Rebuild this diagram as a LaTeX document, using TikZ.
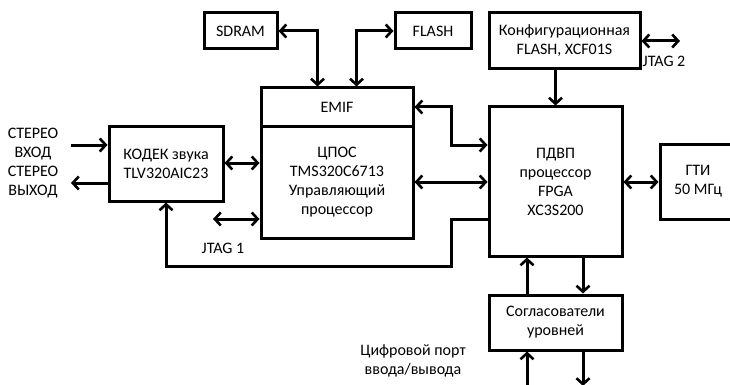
\documentclass[tikz,border=0pt]{standalone}
\usepackage{fontspec}
\setmainfont{Carlito}
\usetikzlibrary{arrows.meta,calc}
\begin{document}
\begin{tikzpicture}[x=1pt,y=-1pt,
  every node/.style={font=\fontsize{16}{19}\selectfont, align=center, inner sep=0pt},
  box/.style={draw, line width=3pt, rectangle},
  conn/.style={line width=3pt, arrows={-}},
  both/.style={conn, {Straight Barb[length=6pt,width=13pt,line width=2.6pt]}-{Straight Barb[length=6pt,width=13pt,line width=2.6pt]}},
  fwd/.style={conn, -{Straight Barb[length=6pt,width=13pt,line width=2.6pt]}}
]
\useasboundingbox (0,0) rectangle (730,385);
\begin{scope}
\clip (0,0) rectangle (730,385);
% boxes
\node[box, minimum width=73pt, minimum height=36pt] (sdram) at (240.5,31) {SDRAM};
\node[box, minimum width=76pt, minimum height=36pt] (flash) at (433,31) {FLASH};
\node[box, minimum width=151pt, minimum height=56pt] (cfg) at (564.5,41) {Конфигурационная\\FLASH, XCF01S};
\node[box, minimum width=152pt, minimum height=38pt] (emif) at (337,107) {EMIF};
\node[box, minimum width=152pt, minimum height=112pt] (dsp) at (337,182) {ЦПОС\\TMS320C6713\\Управляющий\\процессор};
\node[box, minimum width=114pt, minimum height=75pt] (codec) at (166,163.5) {КОДЕК звука\\TLV320AIC23};
\node[box, minimum width=133pt, minimum height=149pt] (fpga) at (555.5,181.5) {ПДВП\\процессор\\FPGA\\XC3S200};
\node[box, minimum width=76pt, minimum height=75pt] (gti) at (698,181.5) {ГТИ\\50 МГц};
\node[box, minimum width=133pt, minimum height=55pt] (lvl) at (555.5,322.5) {Согласователи\\уровней};

% labels
\node (lin) at (33,144.5) {СТЕРЕО\\ВХОД};
\node (lout) at (33,182.5) {СТЕРЕО\\ВЫХОД};
\node (lj1) at (223,248) {JTAG 1};
\node (lj2) at (664,61) {JTAG 2};
\node (lport) at (413,361) {Цифровой порт\\ввода/вывода};

% free ends
\coordinate (inS) at (71,145);
\coordinate (outE) at (71,183);
\coordinate (j1) at (213,219);
\coordinate (j2) at (680,41);
\coordinate (pin) at (527,390);
\coordinate (pout) at (583,386);

% connectors
\draw[both] (sdram.east) -| ($(emif.north west)+(58,0)$);
\draw[both] (flash.west) -| ($(emif.north west)+(97,0)$);
\draw[fwd] (inS) -- (inS -| codec.west);
\draw[fwd] (outE -| codec.west) -- (outE);
\draw[both] (codec.east |- 0,163) -- (dsp.west |- 0,163);
\draw[both] (j1) -- (j1 -| dsp.west);
\draw[fwd] (fpga.west |- 0,219) -- (451,219) -- (451,266) -- (166,266) -- (codec.south);
\draw[both] (emif.east) -- (451,107) -- (451,145) -- (fpga.west |- 0,145);
\draw[both] (dsp.east |- 0,182) -- (fpga.west |- 0,182);
\draw[both] (fpga.east |- 0,182) -- (gti.west |- 0,182);
\draw[fwd] (fpga.north |- cfg.south) -- (fpga.north);
\draw[both] (cfg.east) -- (j2);
\draw[fwd] (lvl.north -| 527,0) -- (fpga.south -| 527,0);
\draw[fwd] (fpga.south -| 583,0) -- (lvl.north -| 583,0);
\draw[fwd] (pin) -- (lvl.south -| pin);
\draw[fwd] (lvl.south -| pout) -- (pout);
\end{scope}
\end{tikzpicture}
\end{document}
